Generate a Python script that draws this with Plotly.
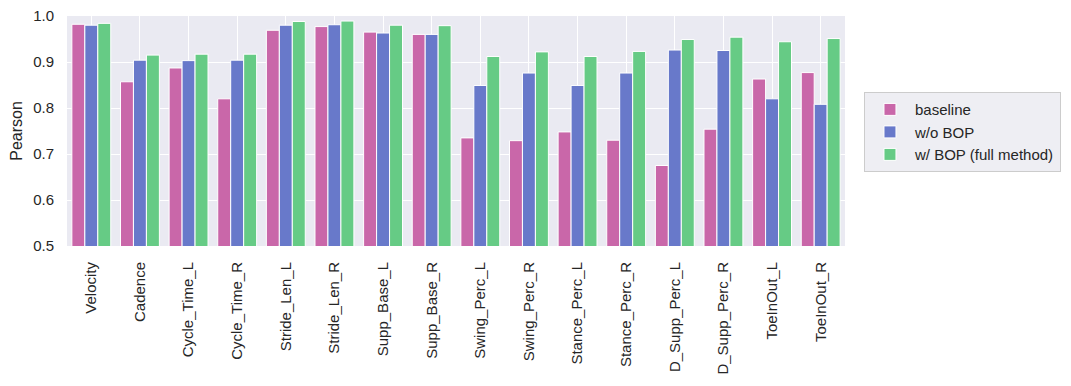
import plotly.graph_objects as go

categories = ["Velocity", "Cadence", "Cycle_Time_L", "Cycle_Time_R", "Stride_Len_L", "Stride_Len_R",
              "Supp_Base_L", "Supp_Base_R", "Swing_Perc_L", "Swing_Perc_R", "Stance_Perc_L",
              "Stance_Perc_R", "D_Supp_Perc_L", "D_Supp_Perc_R", "ToeInOut_L", "ToeInOut_R"]
baseline = [0.982, 0.857, 0.887, 0.820, 0.969, 0.977, 0.965, 0.960, 0.735, 0.729, 0.748, 0.730,
            0.675, 0.754, 0.863, 0.877]
wo_bop = [0.980, 0.904, 0.903, 0.904, 0.980, 0.981, 0.963, 0.960, 0.849, 0.876, 0.849, 0.876,
          0.926, 0.925, 0.820, 0.808]
w_bop = [0.984, 0.915, 0.917, 0.917, 0.988, 0.989, 0.980, 0.979, 0.912, 0.922, 0.912, 0.923,
         0.949, 0.954, 0.944, 0.951]
series_names = ["baseline", "w/o BOP", "w/ BOP (full method)"]
colors = ["rgb(201,103,169)", "rgb(104,121,202)", "rgb(102,203,133)"]
y_ticks = [0.5, 0.6, 0.7, 0.8, 0.9, 1.0]

fig = go.Figure()
for name, vals, c in zip(series_names, [baseline, wo_bop, w_bop], colors):
    fig.add_trace(go.Bar(x=categories, y=vals, name=name,
                         marker=dict(color=c, line=dict(color="white", width=1))))

fig.update_layout(
    width=1071, height=386,
    margin=dict(l=59, r=234, t=8, b=148, autoexpand=False),
    paper_bgcolor="white", plot_bgcolor="#EAEAF2",
    barmode="group", bargap=0.2, bargroupgap=0,
    font=dict(family="Liberation Sans, Arial, sans-serif", size=15, color="#262626"),
    legend=dict(x=1.0244, y=0.495, xanchor="left", yanchor="middle",
                bgcolor="rgba(238,238,243,1)", bordercolor="#CCCCCC", borderwidth=1,
                font=dict(size=15), traceorder="normal", itemwidth=40),
    showlegend=True,
)
fig.update_xaxes(tickangle=-90, showgrid=True, gridcolor="white", gridwidth=1.2,
                 range=[-0.5, len(categories) - 0.5], ticks="", tickfont=dict(size=15),
                 ticklabelstandoff=12, zeroline=False, showline=False, automargin=False,
                 ticklabeloverflow="allow")
fig.update_yaxes(range=[0.5, 1.0], tickvals=y_ticks, tickformat=".1f", showgrid=True,
                 gridcolor="white", gridwidth=1.2, zeroline=False, ticks="",
                 ticklabelstandoff=12, automargin=False, ticklabeloverflow="allow",
                 title=dict(text="Pearson", font=dict(size=16), standoff=6), tickfont=dict(size=15))
fig.write_html("out.html")
